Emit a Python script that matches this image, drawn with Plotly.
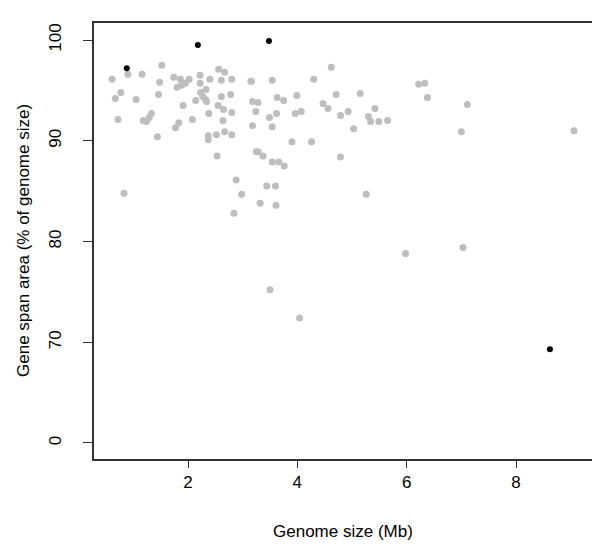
import plotly.graph_objects as go

# Grey points: genome size (Mb) and gene span area (%)
grey_x = [0.61, 0.90, 1.16, 1.52, 0.77, 0.67, 1.05, 0.72, 1.48, 1.46, 1.18, 1.24, 1.29, 1.33,
          1.44, 1.74, 1.86, 2.02, 1.80, 1.88, 1.95, 2.22, 2.22, 2.40, 2.56, 2.67, 2.61, 2.80,
          3.15, 1.91, 2.14, 2.23, 2.33, 2.27, 2.32, 2.34, 2.61, 2.78, 2.55, 2.65, 2.80, 2.38,
          2.64, 2.08, 1.83, 1.77, 2.37, 2.37, 2.52, 2.67, 2.80, 2.53, 3.18, 3.24, 3.18, 3.25,
          3.16, 3.54, 4.30, 4.62, 6.22, 6.33, 6.38, 3.28, 3.63, 3.75, 3.99, 4.71, 5.15, 3.49,
          3.62, 3.96, 4.07, 4.47, 4.56, 4.79, 4.93, 5.42, 5.30, 5.34, 5.49, 5.65, 5.03, 3.54,
          3.90, 4.26, 4.79, 3.28, 3.37, 3.54, 3.66, 3.76, 7.11, 7.00, 9.06, 0.83, 2.88, 2.98,
          3.44, 3.60, 3.32, 3.61, 2.84, 3.50, 4.04, 5.26, 5.98, 7.03]
grey_y = [96.1, 96.6, 96.6, 97.5, 94.8, 94.2, 94.1, 92.1, 95.8, 94.6, 92.0, 91.9, 92.3, 92.7,
          90.4, 96.3, 96.1, 96.1, 95.3, 95.5, 95.7, 96.5, 95.7, 96.1, 97.1, 96.8, 96.0, 96.1,
          95.9, 93.5, 94.0, 94.8, 95.1, 94.4, 94.1, 93.9, 94.4, 94.6, 93.5, 93.1, 92.8, 92.7,
          92.0, 92.1, 91.8, 91.3, 90.5, 90.1, 90.6, 90.9, 90.6, 88.5, 93.9, 92.9, 91.5, 88.9,
          95.9, 96.0, 96.1, 97.3, 95.6, 95.7, 94.3, 93.8, 94.3, 94.0, 94.5, 94.6, 94.7, 92.3,
          92.7, 92.7, 92.9, 93.7, 93.2, 92.5, 92.9, 93.2, 92.4, 91.9, 91.9, 92.0, 91.2, 91.4,
          89.9, 89.9, 88.4, 88.9, 88.5, 87.9, 87.9, 87.5, 93.6, 90.9, 91.0, 84.8, 86.1, 84.7,
          85.5, 85.5, 83.8, 83.6, 82.8, 75.2, 72.4, 84.7, 78.8, 79.4]

# Black (highlighted) points
black_x = [0.88, 2.18, 3.48, 8.62]
black_y = [97.2, 99.5, 99.9, 69.3]

# Y axis: value 60 is shown with the label "0" (broken axis)
y_tickvals = [60, 70, 80, 90, 100]
y_ticktext = ["0", "70", "80", "90", "100"]
x_tickvals = [2, 4, 6, 8]

x_title = "Genome size (Mb)"
y_title = "Gene span area (% of genome size)"

font = "Liberation Sans, Arial, Helvetica, sans-serif"
fs = 17

fig = go.Figure()
fig.add_trace(go.Scatter(x=grey_x, y=grey_y, mode="markers",
                         marker=dict(color="#BEBEBE", size=7, line=dict(width=0)),
                         showlegend=False))
fig.add_trace(go.Scatter(x=black_x, y=black_y, mode="markers",
                         marker=dict(color="black", size=6, line=dict(width=0)),
                         showlegend=False))

fig.update_layout(
    width=600, height=546,
    margin=dict(l=86, r=16, t=15, b=95),
    paper_bgcolor="white", plot_bgcolor="white",
    font=dict(family=font, size=fs, color="black"),
)
fig.update_xaxes(
    range=[0.28, 9.39], tickvals=x_tickvals, ticks="outside", ticklen=7,
    tickcolor="#333333", showline=True, linecolor="#333333", linewidth=1.5, mirror=True,
    showgrid=False, zeroline=False, tickfont=dict(size=fs), automargin=False,
)
fig.update_yaxes(
    range=[58.41, 101.69], tickvals=y_tickvals, ticktext=y_ticktext, tickangle=-90,
    ticks="outside", ticklen=9, tickcolor="#333333", showline=True, linecolor="#333333",
    linewidth=1.5, mirror=True, showgrid=False, zeroline=False, tickfont=dict(size=fs),
    automargin=False, ticklabelstandoff=15,
)
fig.add_annotation(text=x_title, xref="paper", yref="paper", x=0.5, y=0,
                   xanchor="center", yanchor="middle", yshift=-72, showarrow=False,
                   font=dict(size=fs))
fig.add_annotation(text=y_title, xref="paper", yref="paper", x=0, y=0.5,
                   xanchor="center", yanchor="middle", xshift=-71, textangle=-90,
                   showarrow=False, font=dict(size=fs))

fig.write_html("out.html")
